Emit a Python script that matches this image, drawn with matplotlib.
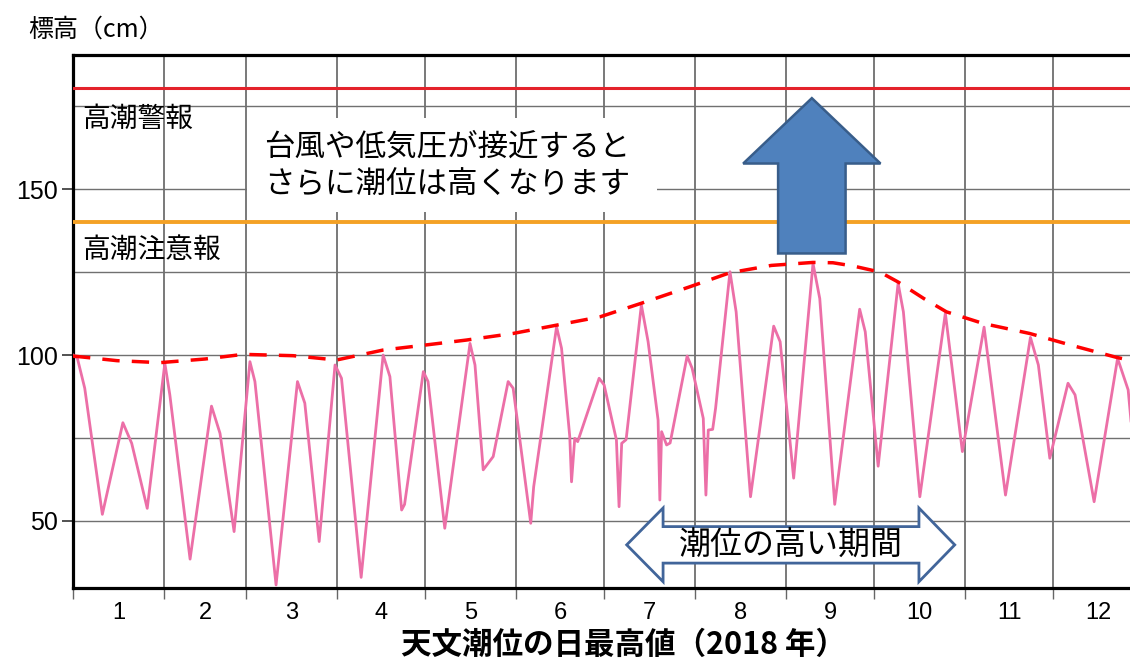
import numpy as np
import matplotlib
matplotlib.use("Agg")
import matplotlib.pyplot as plt
from matplotlib.patches import Polygon, Rectangle

plt.rcParams["font.family"] = ["Noto Sans CJK JP", "DejaVu Sans"]

# month lengths (2018) and labels
month_days = [31, 28, 31, 30, 31, 30, 31, 31, 30, 31, 30, 31]
month_labels = [str(m) for m in range(1, 13)]

# daily astronomical high tide (day of year, cm)
tide_day = [0, 1.5, 4, 10, 17, 20, 25.3, 31.3, 33, 39.9, 47.2, 50.1, 54.9, 60.3, 62,
            69.2, 76.5, 79, 83.9, 89.3, 91.5, 98.2, 105.7, 108, 112, 113, 119.4, 121,
            126.7, 135.3, 137, 139.8, 141.5, 143.2, 148.3, 150, 156, 157, 164.8, 166.5,
            169.3, 169.9, 171, 172, 179.3, 181, 185.2, 186.1, 187, 188.5, 193.7, 196,
            199.4, 200, 200.6, 202.3, 203.5, 209.3, 211, 214.8, 215.7, 216.5, 218, 219,
            223.9, 226, 230.9, 238.8, 241, 245.6, 252.2, 254.5, 259.6, 268.1, 270,
            274.4, 281.2, 283, 288.6, 297.3, 303.1, 310.5, 317.8, 326.3, 329, 332.9,
            339.1, 341.5, 348, 356, 359.6, 361]
tide_val = [100, 99, 90, 52, 79.6, 73.4, 53.8, 97.5, 88, 38.5, 84.6, 76.4, 46.8, 98, 92,
            30.7, 92, 85.5, 43.8, 97, 93, 33, 100, 93.5, 53.3, 55, 95, 92,
            47.8, 103.5, 97, 65.4, 67.4, 69.4, 92, 90, 49.3, 60.3, 108.5, 102,
            75.4, 61.8, 74.9, 73.9, 93, 91, 74.4, 54.3, 73.4, 74.5, 115.1, 104,
            80.4, 56.3, 76.9, 72.9, 73.5, 99.7, 96, 80.9, 57.8, 77.4, 77.6, 84,
            125.1, 113, 57.3, 108.7, 104, 62.9, 127.6, 117, 55.0, 113.8, 107,
            66.5, 121.6, 113, 57.3, 112.6, 70.9, 108.4, 57.8, 105.3, 97, 68.9,
            91.5, 88, 55.8, 99, 89.5, 76]

# envelope of the highest levels (dashed red)
env_day = [0, 15, 29.6, 45, 58, 75, 89.8, 105.7, 120, 134, 150, 164.8, 179.6, 193.7,
           210, 223.9, 238, 252.2, 259, 266, 275, 281.2, 290, 297.7, 310.2, 326, 340,
           355.6, 365]
env_val = [99.7, 98.3, 97.7, 98.8, 100.2, 99.8, 98.5, 101.5, 103, 104.5, 106.5, 109,
           111.5, 115.6, 120.5, 124.8, 127, 127.9, 127.8, 126.8, 125, 122, 117, 113,
           109.5, 106.5, 103, 99.3, 97.5]

warning_level = 180.6   # 高潮警報
advisory_level = 140.2  # 高潮注意報

fig = plt.figure(figsize=(11.3, 6.65), dpi=100)
# the right edge of the plot runs past the picture, as in the original
ax = fig.add_axes([73 / 1130, 77 / 665, 1071 / 1130, 533 / 665])

bounds = np.concatenate([[0], np.cumsum(month_days)])
centers = (bounds[:-1] + bounds[1:]) / 2

ax.set_xlim(0, bounds[-1])
ax.set_ylim(29.8, 190.4)

# grid
ax.set_xticks(bounds)
ax.set_xticklabels([])
ax.set_xticks(centers, minor=True)
ax.set_xticklabels(month_labels, minor=True, family="Liberation Sans", fontsize=17)
ax.set_yticks([50, 100, 150])
ax.set_yticklabels(["50", "100", "150"], family="Liberation Sans", fontsize=18)
ax.set_yticks([75, 125, 175], minor=True)
ax.grid(True, axis="x", which="major", color="#555555", linewidth=1.1, zorder=1)
ax.grid(True, axis="y", which="both", color="#707070", linewidth=1.0, zorder=1)
ax.tick_params(axis="x", which="major", length=8, width=1, color="#666666", direction="out")
ax.tick_params(axis="x", which="minor", length=0, pad=10)
ax.tick_params(axis="y", which="major", length=8, width=1.2, color="#333333", pad=3)
ax.tick_params(axis="y", which="minor", length=0)
ax.set_axisbelow(True)

for side in ["left", "bottom", "top"]:
    ax.spines[side].set_linewidth(2.3)
    ax.spines[side].set_color("black")
ax.spines["right"].set_visible(False)

# alert levels
ax.axhline(warning_level, color="#e4232b", linewidth=2.2, zorder=3)
ax.axhline(advisory_level, color="#f4a125", linewidth=2.8, zorder=3)
ax.text(3.1, 171.2, "高潮警報", fontsize=20, ha="left", va="center", zorder=5)
ax.text(3.1, 131.8, "高潮注意報", fontsize=20, ha="left", va="center", zorder=5)

# tide series
ax.plot(tide_day, tide_val, color="#ec6fa7", linewidth=2.0, zorder=4,
        solid_joinstyle="round")
ax.plot(env_day, env_val, color="#ff0000", linewidth=2.5, dashes=(5, 3.5), zorder=5)

# note box
ax.add_patch(Rectangle((59.3, 143.1), 139.7, 28.3, facecolor="white",
                       edgecolor="none", zorder=2))
ax.text(65.1, 162.7, "台風や低気圧が接近すると", fontsize=22, ha="left", va="center", zorder=6)
ax.text(65.1, 151.2, "さらに潮位は高くなります", fontsize=22, ha="left", va="center", zorder=6)

# up arrow
cx, head_w, shaft_w = 251.8, 23.4, 11.5
tip, base, bottom = 177.4, 157.7, 130.6
up = [(cx, tip), (cx + head_w, base), (cx + shaft_w, base), (cx + shaft_w, bottom),
      (cx - shaft_w, bottom), (cx - shaft_w, base), (cx - head_w, base)]
ax.add_patch(Polygon(up, closed=True, facecolor="#4f81bd", edgecolor="#385d8a",
                     linewidth=1.8, zorder=7))

# double arrow for the high tide period
l_tip, l_base, r_base, r_tip = 188.7, 201.1, 288.3, 300.5
cy, head_h, shaft_h = 42.8, 11.1, 5.5
dbl = [(l_tip, cy), (l_base, cy + head_h), (l_base, cy + shaft_h), (r_base, cy + shaft_h),
       (r_base, cy + head_h), (r_tip, cy), (r_base, cy - head_h), (r_base, cy - shaft_h),
       (l_base, cy - shaft_h), (l_base, cy - head_h)]
ax.add_patch(Polygon(dbl, closed=True, facecolor="white", edgecolor="#41659a",
                     linewidth=2.0, zorder=7))
ax.text(244.7, cy, "潮位の高い期間", fontsize=23, ha="center", va="center", zorder=8)

# labels
fig.text(28 / 1130, 1 - 30 / 665, "標高（cm）", fontsize=18, ha="left", va="center")
fig.text(623 / 1130, 1 - 645 / 665, "天文潮位の日最高値（2018 年）", fontsize=22,
         fontweight="bold", ha="center", va="center")

fig.savefig("out.png", dpi=100)
